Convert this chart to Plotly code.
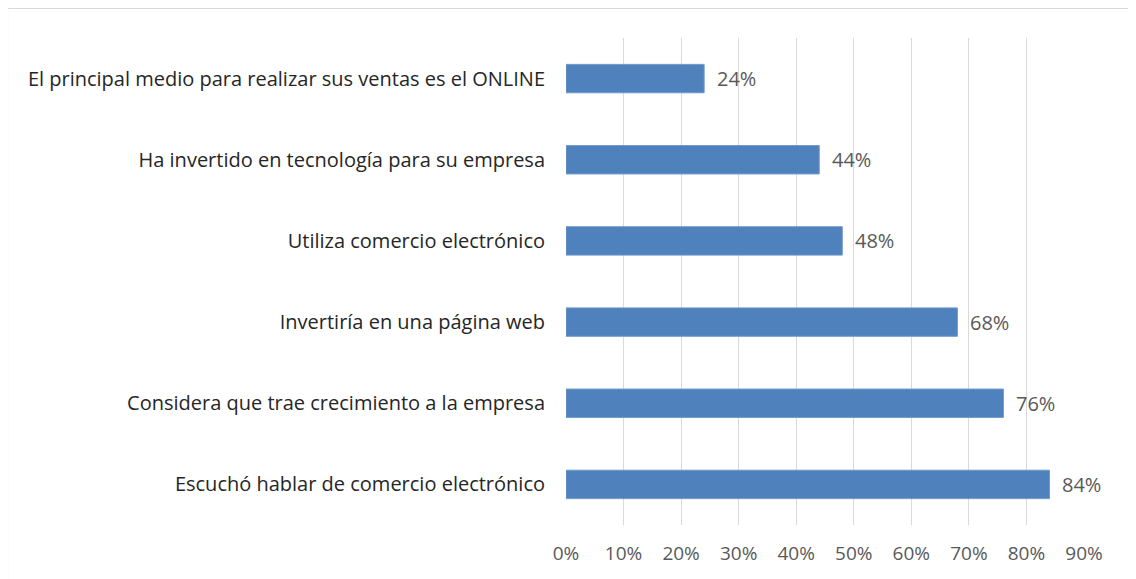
import plotly.graph_objects as go

categories = [
    "El principal medio para realizar sus ventas es el ONLINE",
    "Ha invertido en tecnología para su empresa",
    "Utiliza comercio electrónico",
    "Invertiría en una página web",
    "Considera que trae crecimiento a la empresa",
    "Escuchó hablar de comercio electrónico",
]
values = [0.24, 0.44, 0.48, 0.68, 0.76, 0.84]
x_ticks = [0, 0.1, 0.2, 0.3, 0.4, 0.5, 0.6, 0.7, 0.8, 0.9]
x_tick_labels = ["0%", "10%", "20%", "30%", "40%", "50%", "60%", "70%", "80%", "90%"]

FONT = "Open Sans"
BAR_COLOR = "#4F81BD"
GRID = "#d9d9d9"

fig = go.Figure()

fig.add_trace(
    go.Bar(
        x=values,
        y=categories,
        orientation="h",
        width=0.35,
        marker=dict(color=BAR_COLOR, line=dict(color="#6f99cc", width=1)),
        hoverinfo="x+y",
    )
)

# data labels beside the bars
for cat, v in zip(categories, values):
    fig.add_annotation(
        x=v,
        y=cat,
        text=f"{round(v * 100)}%",
        showarrow=False,
        xanchor="left",
        xshift=11,
        font=dict(family=FONT, size=20, color="#595959"),
    )

# outer chart frame (top and left edges visible)
fig.add_shape(
    type="rect",
    xref="paper",
    yref="paper",
    x0=-1.079,
    x1=1.2,
    y0=-0.2,
    y1=1.0616,
    line=dict(color="#d9d9d9", width=2),
    fillcolor="rgba(0,0,0,0)",
    layer="below",
)

fig.update_layout(
    width=1128,
    height=571,
    margin=dict(l=558, r=52, t=30, b=54),
    paper_bgcolor="white",
    plot_bgcolor="white",
    showlegend=False,
    bargap=0.65,
    xaxis=dict(
        range=[0, 0.9],
        tickvals=x_ticks,
        ticktext=x_tick_labels,
        showgrid=True,
        gridcolor=GRID,
        gridwidth=1,
        zeroline=False,
        showline=False,
        ticks="",
        ticklabelstandoff=15,
        tickfont=dict(family=FONT, size=19, color="#595959"),
    ),
    yaxis=dict(
        autorange="reversed",
        showgrid=False,
        zeroline=False,
        showline=False,
        ticks="",
        ticklabelstandoff=20,
        tickfont=dict(family=FONT, size=20, color="#262626"),
    ),
)

fig.write_html("out.html")
